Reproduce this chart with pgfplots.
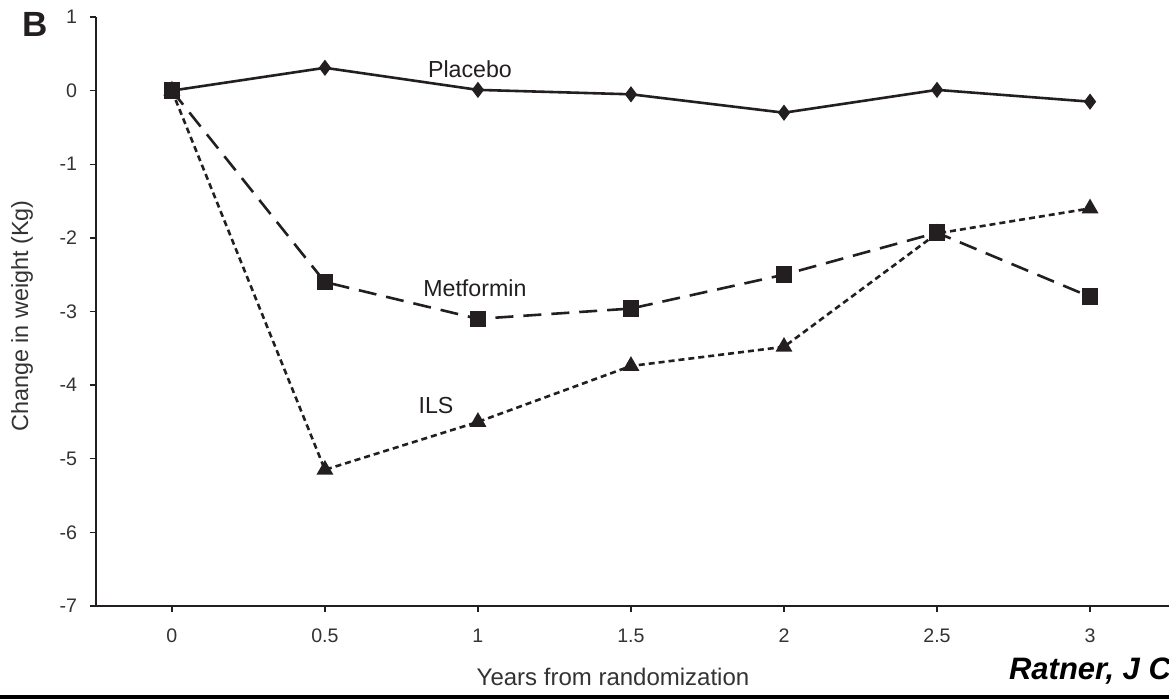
\documentclass[border=0pt]{standalone}
\usepackage{fontspec}
\setmainfont{Liberation Sans}
\usepackage{pgfplots}
\pgfplotsset{compat=1.18}
\definecolor{ink}{HTML}{231F20}
\definecolor{lab}{HTML}{333333}
\begin{document}
\begin{tikzpicture}
\clip (-48pt,-46.5pt) rectangle (536.5pt,303pt);
\begin{axis}[
  at={(0,0)}, anchor=south west,
  scale only axis, width=536.5pt, height=294.5pt,
  xmin=-0.248, xmax=3.258, ymin=-7, ymax=1,
  axis x line=bottom, axis y line=left,
  axis line style={-, line width=1.3pt, ink},
  tick align=outside,
  major tick length=3pt,
  tick style={ink, line width=0.7pt},
  xtick={0,0.5,1,1.5,2,2.5,3},
  xticklabels={0,0.5,1,1.5,2,2.5,3},
  ytick={-7,-6,-5,-4,-3,-2,-1,0,1},
  yticklabels={-7,-6,-5,-4,-3,-2,-1,0,1},
  ticklabel style={font=\fontsize{9.8}{11}\selectfont, text=lab},
  xticklabel style={yshift=-5pt},
  yticklabel style={xshift=-3pt},
  clip=false,
]
\addplot[ink, line width=1.3pt, mark=diamond*, mark size=3pt, mark options={solid, fill=ink}]
  coordinates {(0,0) (0.5,0.31) (1,0.01) (1.5,-0.05) (2,-0.3) (2.5,0.01) (3,-0.15)};
\addplot[ink, line width=1.3pt, dash pattern=on 3pt off 2pt, mark=triangle*, mark size=3.6pt, mark options={solid, fill=ink}]
  coordinates {(0,0) (0.5,-5.15) (1,-4.5) (1.5,-3.74) (2,-3.48) (2.5,-1.94) (3,-1.6)};
\addplot[ink, line width=1.3pt, dash pattern=on 9pt off 5pt, mark=square*, mark size=3.5pt, mark options={solid, fill=ink}]
  coordinates {(0,0) (0.5,-2.6) (1,-3.1) (1.5,-2.96) (2,-2.5) (2.5,-1.93) (3,-2.8)};
\node[font=\fontsize{11.6}{13}\selectfont, text=ink] at (axis cs:0.974,0.29) {Placebo};
\node[font=\fontsize{11.6}{13}\selectfont, text=ink] at (axis cs:0.99,-2.68) {Metformin};
\node[font=\fontsize{11.6}{13}\selectfont, text=ink] at (axis cs:0.863,-4.28) {ILS};
\end{axis}
\node[font=\fontsize{12}{14}\selectfont, text=lab, anchor=base] at (258.5pt,-40pt) {Years from randomization};
\node[font=\fontsize{11.7}{14}\selectfont, text=lab, rotate=90] at (-37pt,145pt) {Change in weight (Kg)};
\node[font=\bfseries\fontsize{17.5}{20}\selectfont, text=ink] at (-30.5pt,291pt) {B};
\node[font=\bfseries\itshape\fontsize{15.5}{18}\selectfont, anchor=base west] at (453pt,-37pt) {Ratner, J C};
\fill[black] (-48pt,-46.5pt) rectangle (536.5pt,-44.5pt);
\end{tikzpicture}
\end{document}
